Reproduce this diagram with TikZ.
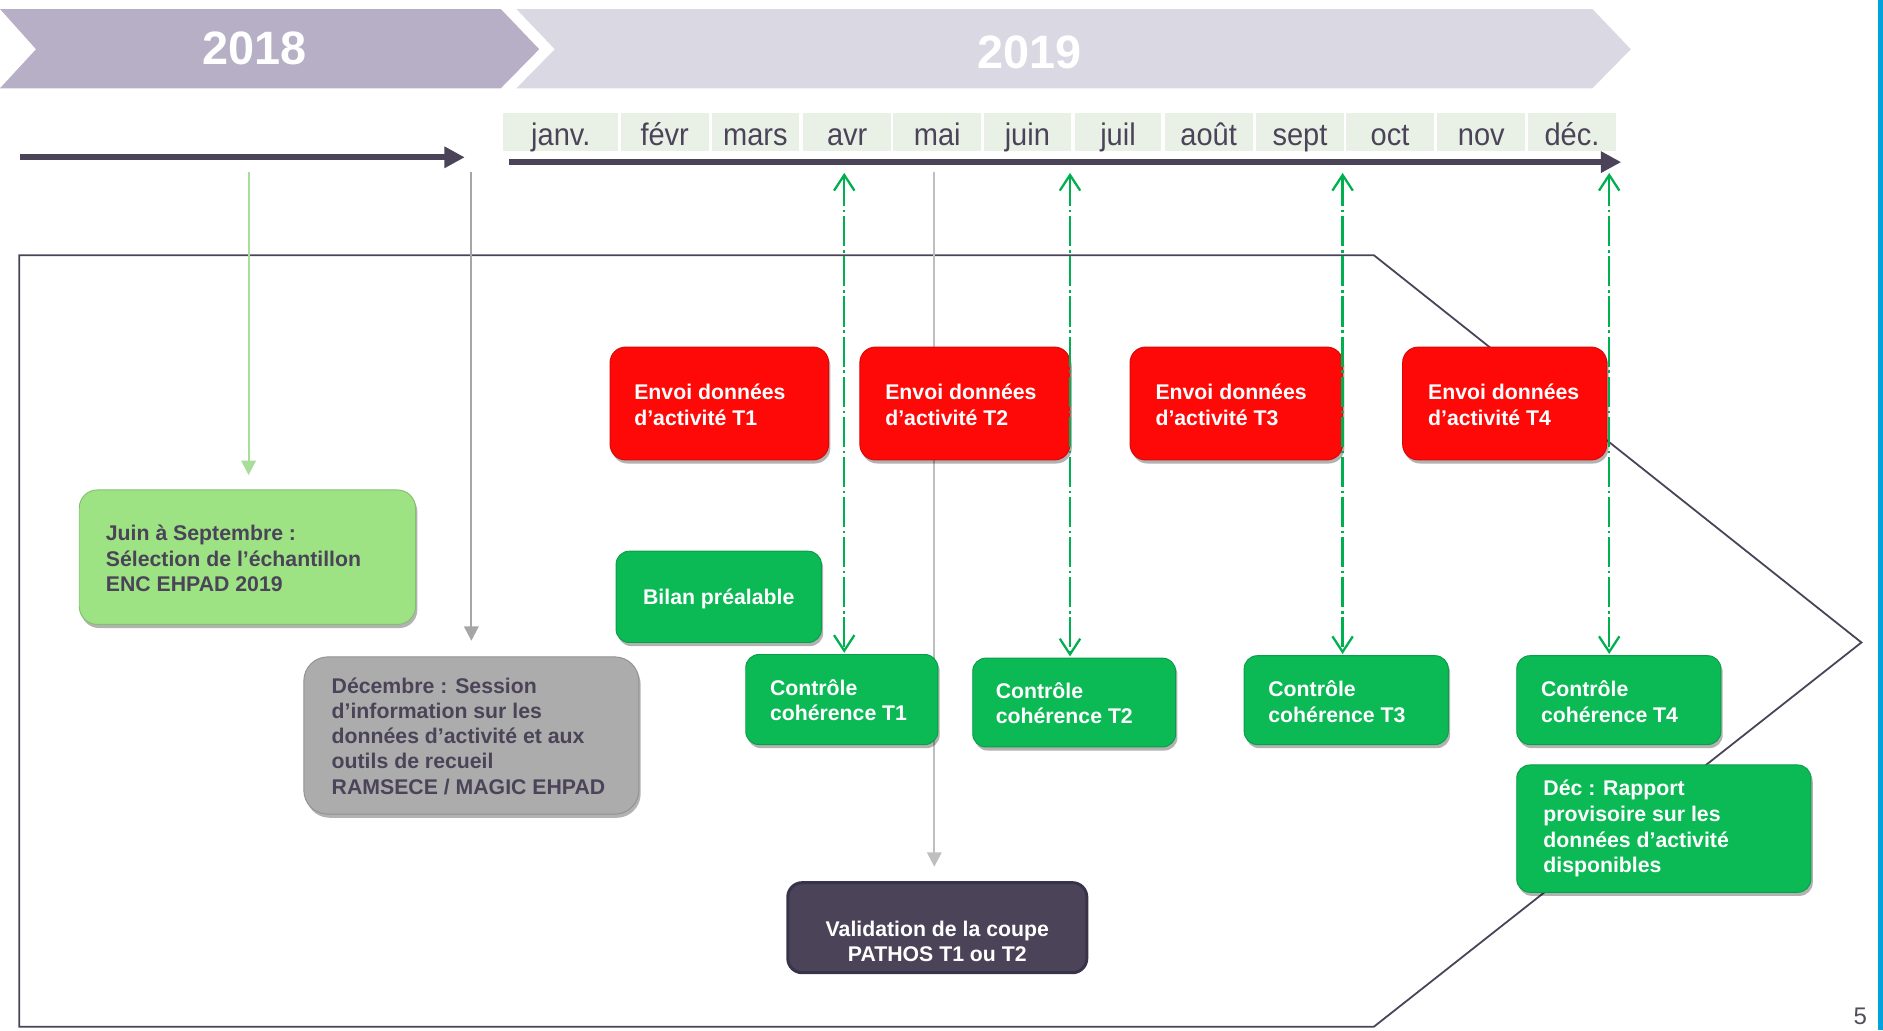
\documentclass[tikz,border=0pt]{standalone}
\usepackage{fontspec}
\setmainfont{Liberation Sans}
\usetikzlibrary{arrows.meta,shadows}
\definecolor{txtdark}{HTML}{4B4459}
\definecolor{chevA}{HTML}{B6AFC5}
\definecolor{chevB}{HTML}{DAD8E2}
\definecolor{monthbg}{HTML}{E9F1E7}
\definecolor{boxred}{HTML}{FF0808}
\definecolor{boxgreen}{HTML}{0BBA55}
\definecolor{lightgreen}{HTML}{9DE283}
\definecolor{boxgray}{HTML}{ACACAC}
\definecolor{valfill}{HTML}{4B4459}
\definecolor{valdraw}{HTML}{38324A}
\definecolor{dashgreen}{HTML}{00B050}
\definecolor{arrowlg}{HTML}{A8DD9A}
\definecolor{arrowgray}{HTML}{A6A6A6}
\definecolor{arrowgraylt}{HTML}{BFBFBF}
\definecolor{bluebar}{HTML}{00A3DA}
\definecolor{pagenum}{HTML}{4F4F5A}
\begin{document}
\begin{tikzpicture}[x=1pt,y=-1pt,
  shadowed/.style={drop shadow={shadow xshift=1.5pt,shadow yshift=-3pt,opacity=0.3,fill=black}},
  redbox/.style={shadowed, rounded corners=13pt, fill=boxred, draw=boxred!85!black, line width=0.8pt, inner sep=0pt},
  grnbox/.style={shadowed, rounded corners=11pt, fill=boxgreen, draw=boxgreen!85!black, line width=0.8pt, inner sep=0pt},
  ltbox/.style={shadowed, rounded corners=15pt, fill=lightgreen, draw=lightgreen!85!black, line width=0.8pt, inner sep=0pt},
  graybox/.style={shadowed, rounded corners=20pt, fill=boxgray, draw=boxgray!85!black, line width=0.8pt, inner sep=0pt},
  valbox/.style={rounded corners=12pt, fill=valfill, draw=valdraw, line width=2.5pt, inner sep=0pt},
  boxtext/.style={font=\fontsize{17.7}{21.5}\selectfont\bfseries, text=white, align=left, inner sep=0pt, anchor=west},
  darktext/.style={boxtext, text=txtdark},
  month/.style={fill=monthbg, minimum height=32pt, inner sep=0pt, text=txtdark,
    font=\fontsize{26}{26}\selectfont, text height=22pt, text depth=0pt},
  yeartext/.style={font=\fontsize{39}{39}\selectfont\bfseries, text=white, inner sep=0pt},
  axis/.style={draw=txtdark, line width=5pt, -{Triangle[length=17pt,width=17pt]}},
  feed/.style={line width=1.8pt, -{Triangle[length=12pt,width=12pt]}},
  dd/.style={draw=dashgreen, line width=1.9pt, dash pattern=on 25pt off 3.2pt on 2pt off 3.2pt,
    {Straight Barb[length=13pt,width=17pt]}-{Straight Barb[length=13pt,width=17pt]}}
]
\useasboundingbox (0,0) rectangle (1568,858);

% year chevrons
\fill[chevA] (0,7.5) -- (417,7.5) -- (449,41) -- (417,73.5) -- (0,73.5) -- (30,41) -- cycle;
\fill[chevB] (430,7.5) -- (1326,7.5) -- (1358,41) -- (1326,73.5) -- (430,73.5) -- (462,41) -- cycle;
\node[yeartext] (y18) at (212,40) {2018};
\node[yeartext] (y19) at (857,44) {2019};

% months
\foreach \n/\xa/\xb/\t in {1/419/515/janv., 2/517/590/févr, 3/593/665/mars, 4/669/742/avr,
  5/744/817/mai, 6/819/892/juin, 7/895/967/juil, 8/970/1043/août, 9/1046/1119/sept,
  10/1121/1194/oct, 11/1197/1270/nov, 12/1272/1346/déc.}
  \node[month, minimum width={(\xb-\xa)*1pt}] (m\n) at ({(\xa+\xb)/2},110) {\scalebox{0.93}[1]{\t}};

% time axes
\coordinate (t18a) at (17,131);
\coordinate (t18b) at (387,131);
\coordinate (t19a) at (424,135);
\coordinate (t19b) at (1350,135);
\draw[axis] (t18a) -- (t18b);
\draw[axis] (t19a) -- (t19b);

% outline
\draw[txtdark, line width=1.5pt] (16,212.5) -- (1144,212.5) -- (1550,535) -- (1144,855) -- (16,855) -- cycle;

% right blue bar and page number
\fill[bluebar] (1564,0) rectangle (1568,858);
\node[font=\fontsize{20}{20}\selectfont, text=pagenum, inner sep=0pt] (pn) at (1549,846) {5};

% connector start points
\coordinate (g1) at (207,143);
\coordinate (g2) at (392.5,143);
\coordinate (g3) at (778,143);
\coordinate (a1) at (703,144);
\coordinate (a2) at (891,144);
\coordinate (a3) at (1118,144);
\coordinate (a4) at (1340,144);

% boxes
\node[ltbox, minimum width=280pt, minimum height=112pt] (sel) at (206,464) {};
\node[graybox, minimum width=279pt, minimum height=131pt] (dec) at (392.5,612.5) {};
\node[valbox, minimum width=249pt, minimum height=75pt] (val) at (780.5,772.5) {};

% feed lines (behind boxes)
\draw[feed, draw=arrowlg, shorten >=12pt] (g1) -- (g1 |- sel.north);
\draw[feed, draw=arrowgray, shorten >=13pt] (g2) -- (dec.north);
\draw[feed, draw=arrowgraylt, shorten >=12pt] (g3) -- (g3 |- val.north);

\node[redbox, minimum width=182pt, minimum height=94pt] (e1) at (599,336) {};
\node[redbox, minimum width=175pt, minimum height=94pt] (e2) at (803.5,336) {};
\node[redbox, minimum width=177pt, minimum height=94pt] (e3) at (1029.5,336) {};
\node[redbox, minimum width=170pt, minimum height=94pt] (e4) at (1253,336) {};
\node[grnbox, minimum width=171pt, minimum height=76pt, font=\fontsize{17.7}{21.5}\selectfont\bfseries, text=white, text height=12.7pt, text depth=0pt] (bil) at (598.5,497) {Bilan préalable};
\node[grnbox, minimum width=160pt, minimum height=75pt] (c1) at (701,582.5) {};
\node[grnbox, minimum width=169pt, minimum height=74pt] (c2) at (894.5,585) {};
\node[grnbox, minimum width=170pt, minimum height=74pt] (c3) at (1121,583) {};
\node[grnbox, minimum width=170pt, minimum height=74pt] (c4) at (1348,583) {};
\node[grnbox, minimum width=245pt, minimum height=106pt] (rap) at (1385.5,690) {};

% texts
\node[darktext] (selt) at (88,465) {Juin à Septembre :\\Sélection de l’échantillon\\ENC EHPAD 2019};
\node[darktext, font=\fontsize{17.7}{21}\selectfont\bfseries] (dect) at (276,613) {Décembre : Session\\d’information sur les\\données d’activité et aux\\outils de recueil\\RAMSECE / MAGIC EHPAD};
\node[boxtext, anchor=center, align=center, font=\fontsize{17.7}{20.5}\selectfont\bfseries] (valt) at (780.5,784) {Validation de la coupe\\PATHOS T1 ou T2};
\node[boxtext] (e1t) at (528,337) {Envoi données\\d’activité T1};
\node[boxtext] (e2t) at (737,337) {Envoi données\\d’activité T2};
\node[boxtext] (e3t) at (962,337) {Envoi données\\d’activité T3};
\node[boxtext] (e4t) at (1189,337) {Envoi données\\d’activité T4};
\node[boxtext] (c1t) at (641,583) {Contrôle\\cohérence T1};
\node[boxtext] (c2t) at (829,585.5) {Contrôle\\cohérence T2};
\node[boxtext] (c3t) at (1056,584) {Contrôle\\cohérence T3};
\node[boxtext] (c4t) at (1283,584) {Contrôle\\cohérence T4};
\node[boxtext] (rapt) at (1285,690) {Déc : Rapport\\provisoire sur les\\données d’activité\\disponibles};

% dash-dot two-way arrows (on top)
\draw[dd, shorten >=1pt] (a1) -- (a1 |- c1.north);
\draw[dd, shorten >=1pt] (a2) -- (a2 |- c2.north);
\draw[dd, shorten >=1pt] (a3) -- (a3 |- c3.north);
\draw[dd, shorten >=1pt] (a4) -- (a4 |- c4.north);
\end{tikzpicture}
\end{document}
